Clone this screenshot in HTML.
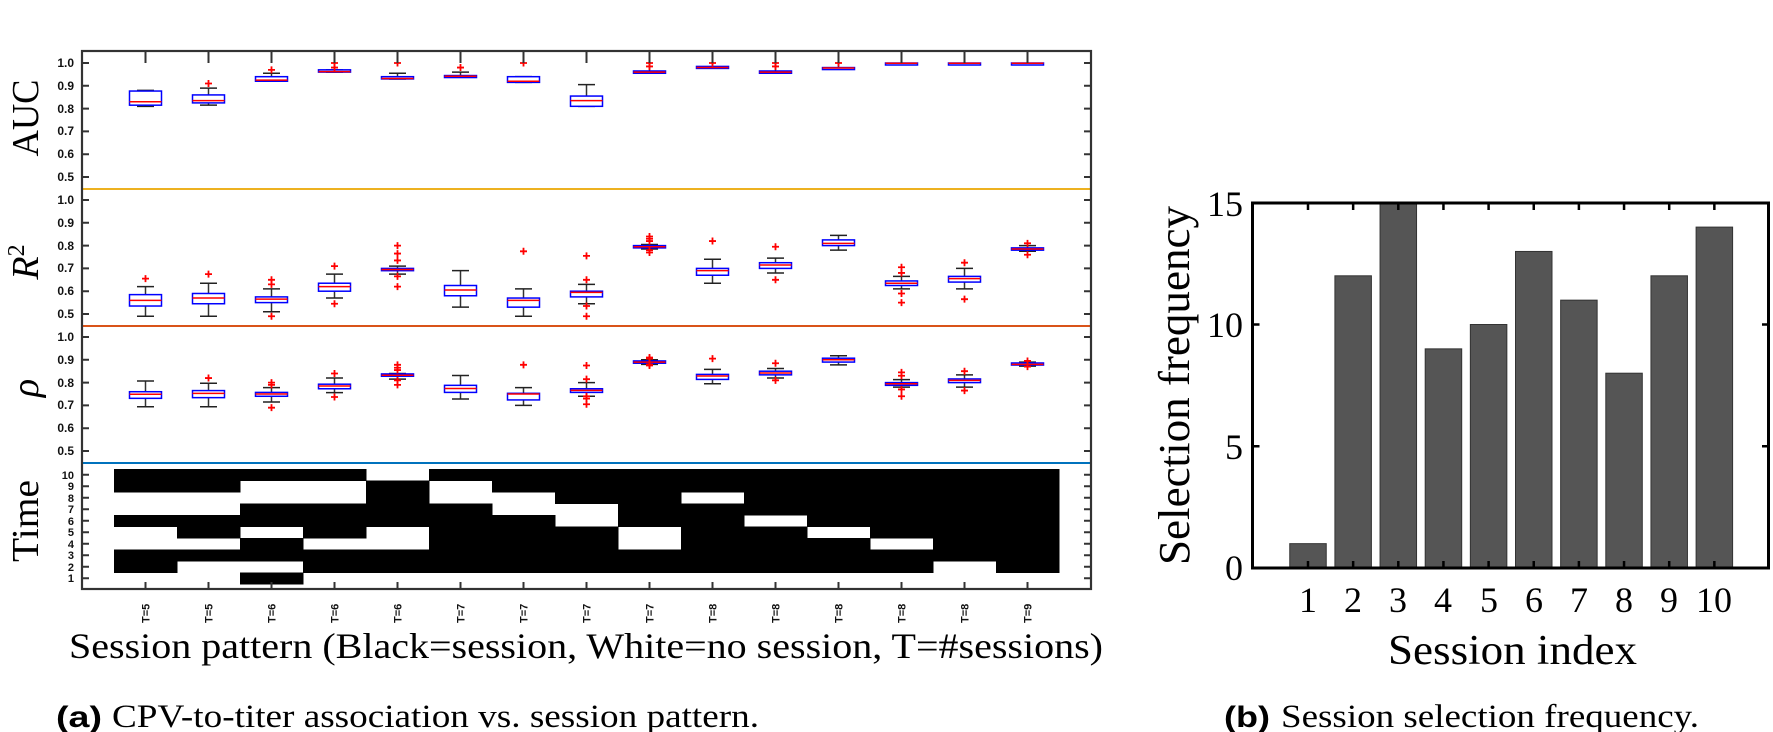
<!DOCTYPE html>
<html><head><meta charset="utf-8"><style>
html,body{margin:0;padding:0;background:#fff;width:1773px;height:732px;overflow:hidden}
svg{display:block}
.tk{font:bold 12px "Liberation Sans",sans-serif;fill:#111}
.tt{font:bold 11px "Liberation Sans",sans-serif;fill:#111}
.sf{font-family:"Liberation Serif",serif;fill:#000}
</style></head><body>
<svg id="s" width="1773" height="732" viewBox="0 0 1773 732" xmlns="http://www.w3.org/2000/svg">
<g id="pat"></g>
<g id="box"></g>
<line x1="82" y1="189" x2="1091" y2="189" stroke="#EDB120" stroke-width="2"/>
<line x1="82" y1="326" x2="1091" y2="326" stroke="#D95319" stroke-width="2"/>
<line x1="82" y1="463" x2="1091" y2="463" stroke="#0072BD" stroke-width="2"/>
<g id="ax"></g>
<rect x="82" y="51" width="1009" height="538" fill="none" stroke="#333" stroke-width="2.2"/>
<!-- left y tick labels -->
<g class="tk" text-anchor="end">
<text x="74" y="67">1.0</text><text x="74" y="90">0.9</text><text x="74" y="113">0.8</text><text x="74" y="135">0.7</text><text x="74" y="158">0.6</text><text x="74" y="181">0.5</text>
<text x="74" y="204">1.0</text><text x="74" y="227">0.9</text><text x="74" y="250">0.8</text><text x="74" y="272">0.7</text><text x="74" y="295">0.6</text><text x="74" y="318">0.5</text>
<text x="74" y="341">1.0</text><text x="74" y="364">0.9</text><text x="74" y="387">0.8</text><text x="74" y="409">0.7</text><text x="74" y="432">0.6</text><text x="74" y="455">0.5</text>
</g>
<g class="tt" text-anchor="end">
<text x="74" y="479">10</text><text x="74" y="490">9</text><text x="74" y="502">8</text><text x="74" y="513">7</text><text x="74" y="525">6</text><text x="74" y="536">5</text><text x="74" y="548">4</text><text x="74" y="559">3</text><text x="74" y="571">2</text><text x="74" y="582">1</text>
</g>
<!-- left y labels -->
<text class="sf" font-size="38" transform="translate(38,118) rotate(-90)" text-anchor="middle" textLength="77" lengthAdjust="spacingAndGlyphs">AUC</text>
<text class="sf" font-size="38" font-style="italic" transform="translate(38,262) rotate(-90)" text-anchor="middle">R<tspan font-size="24" font-style="normal" dy="-14">2</tspan></text>
<text class="sf" font-size="38" font-style="italic" transform="translate(38,388) rotate(-90)" text-anchor="middle">ρ</text>
<text class="sf" font-size="38" transform="translate(38,521) rotate(-90)" text-anchor="middle" textLength="82" lengthAdjust="spacingAndGlyphs">Time</text>
<!-- T labels -->
<g class="tt">
<text transform="translate(149.5,623) rotate(-90)">T=5</text>
<text transform="translate(212.5,623) rotate(-90)">T=5</text>
<text transform="translate(275.5,623) rotate(-90)">T=6</text>
<text transform="translate(338.5,623) rotate(-90)">T=6</text>
<text transform="translate(401.5,623) rotate(-90)">T=6</text>
<text transform="translate(464.5,623) rotate(-90)">T=7</text>
<text transform="translate(527.5,623) rotate(-90)">T=7</text>
<text transform="translate(590.5,623) rotate(-90)">T=7</text>
<text transform="translate(653.5,623) rotate(-90)">T=7</text>
<text transform="translate(716.5,623) rotate(-90)">T=8</text>
<text transform="translate(779.5,623) rotate(-90)">T=8</text>
<text transform="translate(842.5,623) rotate(-90)">T=8</text>
<text transform="translate(905.5,623) rotate(-90)">T=8</text>
<text transform="translate(968.5,623) rotate(-90)">T=8</text>
<text transform="translate(1031.5,623) rotate(-90)">T=9</text>
</g>
<text class="sf" x="69" y="658" font-size="36" textLength="1034" lengthAdjust="spacingAndGlyphs">Session pattern (Black=session, White=no session, T=#sessions)</text>
<text x="56" y="727" font-family="Liberation Sans,sans-serif" font-weight="bold" font-size="30" textLength="46" lengthAdjust="spacingAndGlyphs">(a)</text>
<text class="sf" x="112" y="727" font-size="33" textLength="647" lengthAdjust="spacingAndGlyphs">CPV-to-titer association vs. session pattern.</text>

<!-- bar chart -->
<g id="bars"></g>
<rect x="1252.5" y="203" width="516" height="365" fill="none" stroke="#000" stroke-width="3"/>
<g class="sf" font-size="36" text-anchor="end">
<text x="1243" y="580">0</text><text x="1243" y="459">5</text><text x="1243" y="337">10</text><text x="1243" y="216">15</text>
</g>
<g class="sf" font-size="36" text-anchor="middle">
<text x="1308" y="612">1</text><text x="1353" y="612">2</text><text x="1398" y="612">3</text><text x="1443" y="612">4</text><text x="1489" y="612">5</text><text x="1534" y="612">6</text><text x="1579" y="612">7</text><text x="1624" y="612">8</text><text x="1669" y="612">9</text><text x="1714" y="612">10</text>
</g>
<text class="sf" x="1388" y="664" font-size="42" textLength="249" lengthAdjust="spacingAndGlyphs">Session index</text>
<text class="sf" font-size="44" transform="translate(1189,565) rotate(-90)" textLength="359" lengthAdjust="spacingAndGlyphs">Selection frequency</text>
<text x="1224" y="727" font-family="Liberation Sans,sans-serif" font-weight="bold" font-size="30" textLength="46" lengthAdjust="spacingAndGlyphs">(b)</text>
<text class="sf" x="1281" y="727" font-size="33" textLength="418" lengthAdjust="spacingAndGlyphs">Session selection frequency.</text>
</svg>
<script>
var NS="http://www.w3.org/2000/svg";
function el(p,t,a){var e=document.createElementNS(NS,t);for(var k in a)e.setAttribute(k,a[k]);document.getElementById(p).appendChild(e);return e;}
function cx(i){return 145.5+63*i;}
// pattern
var pat=[[10,9,6,3,2],[10,9,6,5,3],[10,7,6,4,3,1],[10,7,6,5,3,2],[9,8,7,6,3,2],[10,7,6,5,4,3,2],[10,9,6,5,4,3,2],[10,9,8,5,4,3,2],[10,9,8,7,6,3,2],[10,9,7,6,5,4,3,2],[10,9,8,7,5,4,3,2],[10,9,8,7,6,4,3,2],[10,9,8,7,6,5,3,2],[10,9,8,7,6,5,4,3],[10,9,8,7,6,5,4,3,2]];
pat.forEach(function(r,i){r.forEach(function(k){el("pat","rect",{x:cx(i)-31.5,y:584-11.5*k,width:63.5,height:12,fill:"#000"});});});
// boxes: [q1,med,q3,wlo,whi,outliers]
var auc=[[.815,.83,.877,.81,.88,[]],[.825,.835,.86,.815,.89,[.91]],[.92,.925,.94,.92,.955,[.97]],[.96,.962,.97,.96,.97,[1,.98]],[.93,.932,.94,.93,.955,[1]],[.94,.942,.945,.94,.96,[.98]],[.915,.92,.94,.915,.94,[1]],[.81,.835,.855,.81,.905,[]],[.955,.96,.965,.955,1.05,[1,.985]],[.978,.98,.985,.978,1.05,[1]],[.955,.96,.965,.955,1.05,[1,.985]],[.977,.978,.98,.977,1.05,[1]],[.998,.999,1,.998,1.05,[]],[.998,.999,1,.998,1.05,[]],[.998,.999,1,.998,1.05,[]]];
var r2=[[.535,.56,.585,.49,.62,[.655]],[.545,.57,.59,.49,.635,[.675]],[.55,.565,.575,.51,.61,[.65,.63,.49]],[.6,.62,.635,.57,.675,[.71,.545]],[.69,.695,.70,.675,.71,[.8,.765,.735,.665,.62]],[.58,.605,.625,.53,.69,[]],[.53,.56,.57,.49,.61,[.775]],[.575,.595,.6,.545,.63,[.755,.65,.535,.49]],[.79,.795,.80,.785,.805,[.84,.83,.82,.78,.77]],[.67,.69,.70,.635,.74,[.82]],[.70,.715,.725,.68,.745,[.795,.65]],[.80,.81,.825,.78,.845,[]],[.625,.635,.645,.61,.665,[.705,.68,.59,.55]],[.64,.655,.665,.61,.70,[.725,.565]],[.78,.785,.79,.775,.80,[.81,.76]]];
var rho=[[.731,.749,.76,.694,.807,[]],[.734,.753,.765,.694,.797,[.82]],[.74,.75,.757,.715,.778,[.80,.79,.69]],[.773,.785,.793,.756,.82,[.84,.737]],[.828,.832,.838,.815,.84,[.878,.865,.855,.81,.79]],[.757,.774,.788,.728,.831,[]],[.724,.75,.753,.70,.778,[.878]],[.757,.766,.773,.74,.80,[.875,.815,.74,.73,.705]],[.885,.89,.895,.88,.9,[.91,.905,.88,.875]],[.814,.829,.836,.795,.858,[.905]],[.834,.842,.85,.82,.862,[.885,.81]],[.89,.90,.907,.878,.918,[]],[.788,.795,.80,.78,.813,[.845,.83,.77,.74]],[.80,.81,.816,.78,.834,[.85,.765]],[.877,.88,.886,.872,.89,[.895,.87]]];
function panel(d,y0){d.forEach(function(b,i){var x=cx(i);function Y(v){return y0+(1-v)*228;}
 var top=Math.max(Y(b[4]),51);
 el("box","line",{x1:x,y1:top,x2:x,y2:Y(b[3]),stroke:"#333","stroke-width":1.5});
 if(b[4]<1.04)el("box","line",{x1:x-8.5,y1:Y(b[4]),x2:x+8.5,y2:Y(b[4]),stroke:"#222","stroke-width":1.5});
 el("box","line",{x1:x-8.5,y1:Y(b[3]),x2:x+8.5,y2:Y(b[3]),stroke:"#222","stroke-width":1.5});
 var h=Math.max(Y(b[0])-Y(b[2]),2);
 el("box","rect",{x:x-16,y:Y(b[2]),width:32,height:h,fill:"#fff",stroke:"#00f","stroke-width":1.5});
 el("box","line",{x1:x-16,y1:Y(b[1]),x2:x+16,y2:Y(b[1]),stroke:"#f00","stroke-width":1.5});
 b[5].forEach(function(o){var y=Y(o);el("box","path",{d:"M"+(x-3.5)+" "+y+"h7M"+x+" "+(y-3.5)+"v7",stroke:"#f00","stroke-width":1.8});});
});}
panel(auc,63);panel(r2,200);panel(rho,337);
// axis ticks
var d="";
for(var i=0;i<15;i++){d+="M"+cx(i)+" 51v12M"+cx(i)+" 589v-7";}
[63,200,337].forEach(function(y0){for(var k=0;k<6;k++){var y=y0+k*22.8;d+="M82 "+y+"h7M1091 "+y+"h-7";}});
for(var k=1;k<=10;k++){var y=584-11.5*k+5.75;d+="M82 "+y+"h7M1091 "+y+"h-7";}
el("ax","path",{d:d,stroke:"#333","stroke-width":2,fill:"none"});
// bars
var vals=[1,12,15,9,10,13,11,8,12,14];var bd="";
vals.forEach(function(v,i){var c=1308+45.15*i;var h=v*24.35;
 el("bars","rect",{x:c-18.25,y:568-h,width:36.5,height:h,fill:"#555",stroke:"#333","stroke-width":1});
 bd+="M"+c+" 568v-7M"+c+" 203v7";});
[0,5,10,15].forEach(function(v){var y=568-v*24.35;bd+="M1252.5 "+y+"h7M1769 "+y+"h-7";});
el("bars","path",{d:bd,stroke:"#000","stroke-width":2.5,fill:"none"});
</script>
</body></html>
